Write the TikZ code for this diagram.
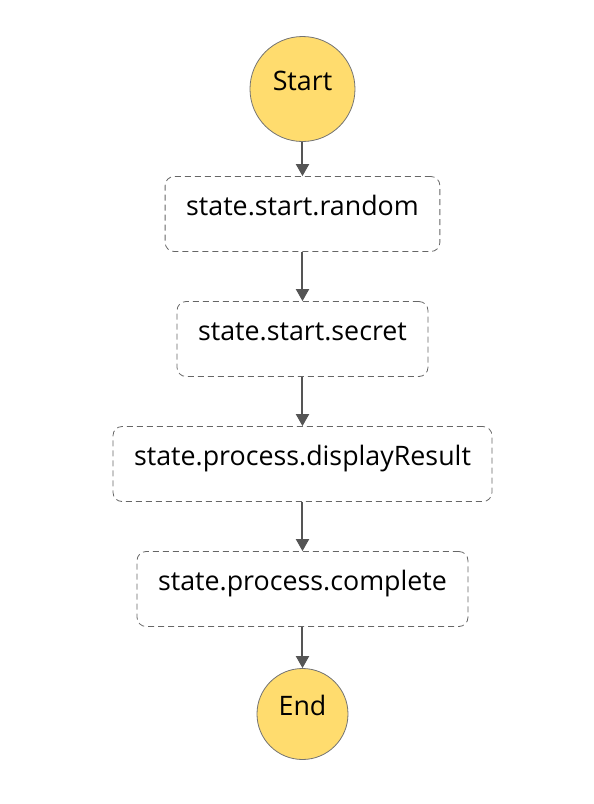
\documentclass[tikz,border=0pt]{standalone}
\usepackage{fontspec}
\setmainfont{Open Sans}
\usetikzlibrary{positioning, arrows.meta}
\definecolor{termfill}{HTML}{FFDC6E}
\definecolor{edgegray}{HTML}{555555}
\definecolor{dashgray}{HTML}{666666}

\begin{document}
\begin{tikzpicture}[node distance=125pt,on grid,
   font=\fontsize{26.8}{32}\selectfont,
   terminal/.style={circle, draw=gray!90!black, line width=0.8pt, fill=termfill,
      text height=13pt, text depth=11pt, inner sep=0pt},
   task/.style={draw=dashgray, dash pattern=on 6pt off 4pt, line width=0.8pt,
      rounded corners=9pt, minimum height=75pt, inner xsep=21pt,
      text height=13pt, text depth=11pt},
   flow/.style={-{Triangle[length=12pt,width=13pt]}, draw=edgegray, fill=edgegray,
      line width=2pt}]
   \useasboundingbox (-302.5pt,89pt) rectangle (291.5pt,-715pt);

   \node[terminal, minimum size=105pt] (start) {Start};
   \node[task] (random) [below=of start] {state.start.random};
   \node[task] (secret) [below=of random] {state.start.secret};
   \node[task] (display) [below=of secret] {state.process.displayResult};
   \node[task] (complete) [below=of display] {state.process.complete};
   \node[terminal, minimum size=91pt] (end) [below=of complete] {End};

   \path[flow]
   (start) edge (random)
   (random) edge (secret)
   (secret) edge (display)
   (display) edge (complete)
   (complete) edge (end);
\end{tikzpicture}
\end{document}
